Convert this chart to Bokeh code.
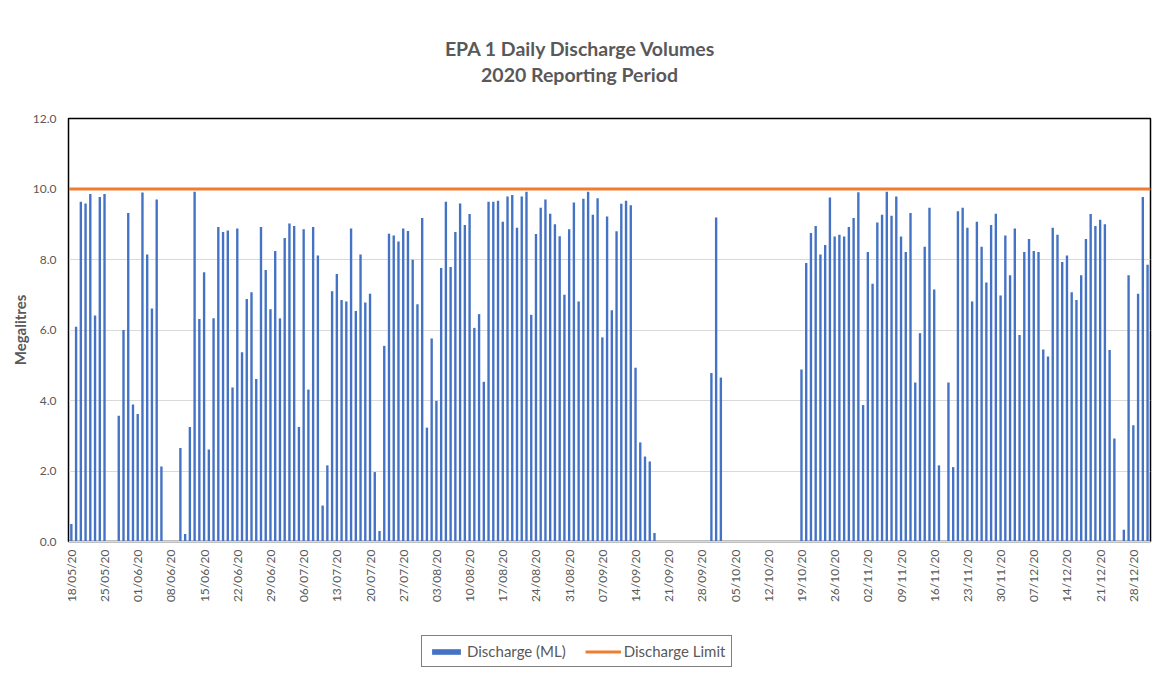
import pandas as pd
from bokeh.plotting import figure
from bokeh.layouts import column
from bokeh.models import (Range1d, FixedTicker, DatetimeTickFormatter, Legend, LegendItem,
                          Label, NumeralTickFormatter, ColumnDataSource)
from bokeh.embed import file_html
from bokeh.resources import INLINE

start_date = "2020-05-18"
discharge = [
    0.50, 6.09, 9.64, 9.59, 9.86, 6.41, 9.77, 9.86, 0, 0,
    3.57, 6.00, 9.32, 3.89, 3.62, 9.90, 8.14, 6.61, 9.70, 2.13,
    0, 0, 0, 2.65, 0.21, 3.25, 9.92, 6.31, 7.64, 2.61,
    6.33, 8.92, 8.78,
    8.82, 4.37, 8.88, 5.37, 6.88, 7.07, 4.61, 8.92, 7.70, 6.59,
    8.24, 6.33, 8.61, 9.02, 8.95, 3.25, 8.86, 4.31, 8.92, 8.11,
    1.02, 2.16, 7.10, 7.59, 6.85, 6.81, 8.88, 6.54, 8.14, 6.78,
    7.03, 1.97, 0.30,
    5.55, 8.73, 8.68, 8.51, 8.88, 8.81, 7.99, 6.73, 9.18, 3.23,
    5.76, 3.99, 7.76, 9.64, 7.79, 8.78, 9.59, 8.98, 9.29, 6.06,
    6.45, 4.53, 9.64, 9.64, 9.67, 9.07, 9.79, 9.83, 8.90, 9.79,
    9.92, 6.43, 8.72, 9.47,
    9.70, 9.30, 9.00, 8.66, 7.00, 8.86, 9.62, 6.81, 9.72, 9.92,
    9.27, 9.74, 5.79, 9.22, 6.56, 8.80, 9.58, 9.67, 9.54, 4.93,
    2.81, 2.41, 2.27, 0.24,
    0, 0, 0, 0, 0, 0, 0, 0, 0, 0, 0,
    4.78, 9.19, 4.65,
    0, 0, 0, 0, 0, 0, 0, 0, 0, 0, 0, 0, 0, 0, 0, 0,
    4.88, 7.90, 8.75, 8.95, 8.14, 8.41, 9.76, 8.65, 8.70, 8.65, 8.92, 9.18, 9.91,
    3.87, 8.21, 7.31, 9.05, 9.27, 9.92, 9.24, 9.79, 8.65, 8.21,
    9.32, 4.51, 5.91, 8.36, 9.47, 7.15, 2.16, 0, 4.51, 2.11,
    9.37, 9.47, 8.90, 6.81, 9.07, 8.36, 7.35, 8.98, 9.30, 6.98,
    8.68, 7.55, 8.88, 5.86,
    8.21, 8.58, 8.24, 8.21, 5.45, 5.25, 8.90, 8.70, 7.93, 8.11,
    7.07, 6.85, 7.55, 8.58, 9.29, 8.95, 9.13, 9.00, 5.43, 2.92,
    0, 0.33, 7.55, 3.30, 7.03, 9.77, 7.85,
]
discharge_limit = 10.0
y_ticks = [0, 2, 4, 6, 8, 10, 12]
title_line1 = "EPA 1 Daily Discharge Volumes"
title_line2 = "2020 Reporting Period"
series_names = ["Discharge (ML)", "Discharge Limit"]

DAY = 86400000.0
dates = pd.date_range(start_date, periods=len(discharge), freq="D")
x_ms = [d.value / 1e6 for d in dates]
src = ColumnDataSource(dict(x=x_ms, top=discharge))

x_start = x_ms[0] - 0.6 * DAY
x_end = x_ms[-1] + 0.62 * DAY

GRAY = "#595959"
BLUE = "#4472C4"
ORANGE = "#ED7D31"
FONT = "Lato"
W = 1163


def bare(fig):
    fig.outline_line_color = None
    fig.xgrid.grid_line_color = None
    fig.ygrid.grid_line_color = None
    return fig


# ---- title strip ----
tfig = bare(figure(frame_width=W, frame_height=108, output_backend="svg", toolbar_location=None,
                   x_range=Range1d(0, 1), y_range=Range1d(0, 1),
                   x_axis_location=None, y_axis_location=None,
                   min_border=0, border_fill_color="white", background_fill_color="white"))
for txt, xpos, ypos in [(title_line1, 512, 60), (title_line2, 511, 34)]:
    tfig.add_layout(Label(x=xpos, y=ypos, x_units="screen", y_units="screen", text=txt,
                          text_align="center", text_baseline="middle", text_font=FONT,
                          text_font_style="bold", text_font_size="19.5px", text_color=GRAY))

# ---- main chart ----
p = figure(frame_width=1082, frame_height=423, output_backend="svg", toolbar_location=None,
           x_range=Range1d(x_start, x_end), y_range=Range1d(0, 12),
           min_border_left=68, min_border_right=13, min_border_top=10, min_border_bottom=88,
           background_fill_color="white", border_fill_color="white")

p.vbar(x="x", top="top", width=0.5 * DAY, source=src, fill_color=BLUE, line_color=None)
p.line(x=[x_start, x_end], y=[discharge_limit, discharge_limit],
       line_color=ORANGE, line_width=3)

p.outline_line_color = "black"
p.outline_line_width = 1.5

p.xaxis.ticker = FixedTicker(ticks=x_ms[::7])
fmt = "%d/%m/%y"
p.xaxis.formatter = DatetimeTickFormatter(days=fmt, months=fmt, years=fmt, hours=fmt,
                                          minutes=fmt, seconds=fmt, milliseconds=fmt,
                                          microseconds=fmt, minsec=fmt, hourmin=fmt)
p.xaxis.major_label_orientation = 3.14159265 / 2
p.xaxis.major_label_text_font = FONT
p.xaxis.major_label_text_font_size = "12px"
p.xaxis.major_label_text_color = GRAY
p.xaxis.major_tick_line_color = None
p.xaxis.minor_tick_line_color = None
p.xaxis.major_tick_out = 0
p.xaxis.axis_line_color = "#D9D9D9"
p.xaxis.major_label_standoff = 8

p.yaxis.ticker = FixedTicker(ticks=y_ticks)
p.yaxis.formatter = NumeralTickFormatter(format="0.0")
p.yaxis.major_label_text_font = FONT
p.yaxis.major_label_text_font_size = "12px"
p.yaxis.major_label_text_color = GRAY
p.yaxis.major_tick_line_color = None
p.yaxis.minor_tick_line_color = None
p.yaxis.major_tick_out = 0
p.yaxis.axis_line_color = "black"
p.yaxis.major_label_standoff = 12
p.yaxis.axis_label = "Megalitres"
p.yaxis.axis_label_text_font = FONT
p.yaxis.axis_label_text_font_style = "bold"
p.yaxis.axis_label_text_font_size = "15px"
p.yaxis.axis_label_text_color = GRAY
p.yaxis.axis_label_standoff = 1

p.xgrid.grid_line_color = None
p.ygrid.grid_line_color = "#D9D9D9"
p.ygrid.grid_line_width = 1

# ---- legend strip (legend keys share the chart's data and styles) ----
lfig = bare(figure(frame_width=W, frame_height=50, output_backend="svg", toolbar_location=None,
                   x_range=Range1d(x_start, x_end), y_range=Range1d(100, 101),
                   x_axis_location=None, y_axis_location=None,
                   min_border=0, border_fill_color="white", background_fill_color="white"))
kb = lfig.vbar(x="x", top="top", width=0.5 * DAY, source=src, fill_color=BLUE, line_color=None)
kl = lfig.line(x=[x_start, x_end], y=[discharge_limit, discharge_limit],
               line_color=ORANGE, line_width=3)
legend = Legend(items=[LegendItem(label=series_names[0], renderers=[kb]),
                       LegendItem(label=series_names[1], renderers=[kl])],
                orientation="horizontal", location=(421, 12),
                border_line_color="black", border_line_width=1,
                label_text_font=FONT, label_text_font_size="15px", label_text_color=GRAY,
                glyph_width=36, glyph_height=7, label_height=18, label_standoff=3,
                spacing=19, padding=6, margin=0)
lfig.add_layout(legend)

layout = column(tfig, p, lfig, spacing=0)
open("out.html", "w").write(file_html(layout, INLINE))
